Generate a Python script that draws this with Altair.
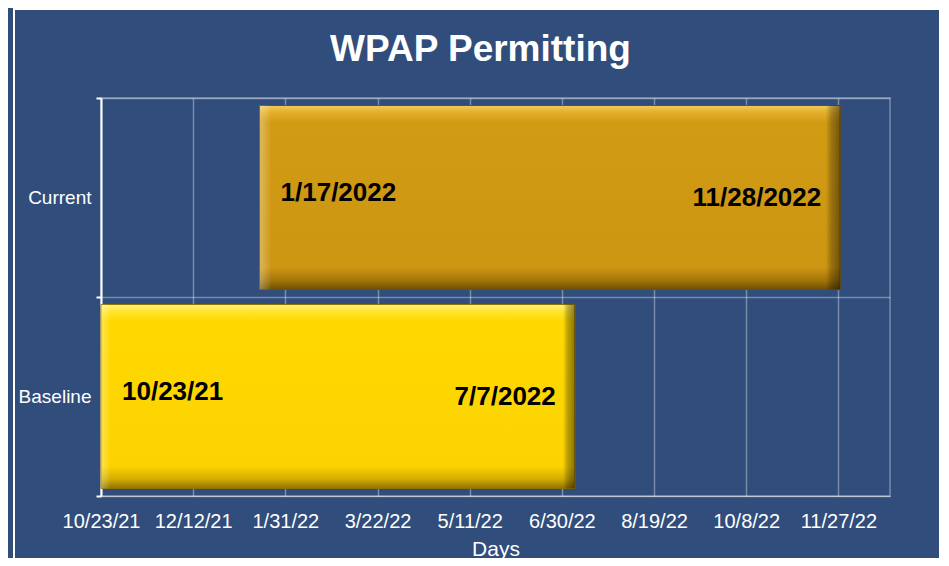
import altair as alt
import pandas as pd

# ---- data ----
categories = ["Current", "Baseline"]
start_dates = ["2022-01-17", "2021-10-23"]
end_dates = ["2022-11-28", "2022-07-07"]
start_labels = ["1/17/2022", "10/23/21"]
end_labels = ["11/28/2022", "7/7/2022"]
tick_dates = ["2021-10-23", "2021-12-12", "2022-01-31", "2022-03-22", "2022-05-11",
              "2022-06-30", "2022-08-19", "2022-10-08", "2022-11-27"]
axis_range = ["2021-10-23", "2022-12-25"]

df = pd.DataFrame({
    "category": categories,
    "start": start_dates,
    "end": end_dates,
    "start_label": start_labels,
    "end_label": end_labels,
})


def dt(s):
    y, m, d = (int(p) for p in s.split("-"))
    return alt.DateTime(year=y, month=m, date=d, utc=True)


BG = "#304D7C"
GRID = "rgba(255,255,255,0.35)"
FONT = "Liberation Sans"

x_scale = alt.Scale(type="utc", domain=[dt(axis_range[0]), dt(axis_range[1])])
y_scale = alt.Scale(paddingInner=0, paddingOuter=0)

x_enc = alt.X(
    "start:T",
    scale=x_scale,
    axis=alt.Axis(
        title="Days",
        values=[dt(t) for t in tick_dates],
        format="%-m/%-d/%y",
        ticks=False,
        tickSize=0,
        domainColor=GRID,
        gridColor=GRID,
        gridWidth=1.5,
        labelColor="white",
        labelFont=FONT,
        labelFontSize=20,
        labelPadding=15,
        labelFlush=False,
        labelOverlap=False,
        titleColor="white",
        titleFont=FONT,
        titleFontSize=21,
        titleFontWeight="normal",
        titlePadding=7,
    ),
)
y_enc = alt.Y(
    "category:N",
    sort=categories,
    scale=y_scale,
    axis=alt.Axis(
        title=None,
        tickBand="extent",
        domainColor="white",
        domainWidth=2,
        tickColor="white",
        tickWidth=2,
        tickSize=5,
        gridColor=GRID,
        gridWidth=1.5,
        grid=True,
        labelColor="white",
        labelFont=FONT,
        labelFontSize=19,
        labelPadding=5,
    ),
)


def grad(stops, horizontal=False):
    return alt.Gradient(
        gradient="linear",
        stops=[alt.GradientStop(color=c, offset=o) for o, c in stops],
        x1=0, x2=1 if horizontal else 0, y1=0, y2=0 if horizontal else 1,
    )


current_fill = grad([(0, "#F2C95A"), (0.04, "#E2AE2A"), (0.09, "#D29B14"),
                     (0.88, "#CD9612"), (0.95, "#A37608"), (1, "#6E5004")])
baseline_fill = grad([(0, "#FFF27A"), (0.04, "#FFE52E"), (0.09, "#FFD900"),
                      (0.88, "#FCD300"), (0.95, "#D2AC00"), (1, "#8F7200")])
side_bevel = grad([(0, "rgba(255,255,255,0.30)"), (0.016, "rgba(255,255,255,0.08)"),
                   (0.02, "rgba(255,255,255,0)"), (0.975, "rgba(0,0,0,0)"),
                   (0.985, "rgba(0,0,0,0.25)"), (1, "rgba(0,0,0,0.45)")], horizontal=True)

base = alt.Chart(df)

bar_current = base.transform_filter(alt.datum.category == "Current").mark_bar(
    size=184, color=current_fill, stroke="#6E5004", strokeWidth=1
).encode(x=x_enc, x2="end:T", y=y_enc)

bar_baseline = base.transform_filter(alt.datum.category == "Baseline").mark_bar(
    size=184, color=baseline_fill, stroke="#8F7200", strokeWidth=1
).encode(x=x_enc, x2="end:T", y=y_enc)

bar_bevel = base.mark_bar(size=184, color=side_bevel).encode(
    x=x_enc, x2="end:T", y=y_enc
)

start_text = base.mark_text(
    align="left", baseline="middle", dx=21, dy=-5,
    font=FONT, fontSize=26, fontWeight="bold", color="black",
).encode(x="start:T", y=alt.Y("category:N", sort=categories), text="start_label:N")

end_text = base.mark_text(
    align="right", baseline="middle", dx=-19, dy=0,
    font=FONT, fontSize=26, fontWeight="bold", color="black",
).encode(x="end:T", y=alt.Y("category:N", sort=categories), text="end_label:N")

frame = alt.Chart(pd.DataFrame({"f": [0]})).mark_rect(
    fillOpacity=0, stroke="white", strokeWidth=2
).encode(x=alt.value(-87), x2=alt.value(839), y=alt.value(-89), y2=alt.value(520))

chart = alt.layer(frame, bar_current, bar_baseline, bar_bevel, start_text, end_text).properties(
    width=789,
    height=398,
    autosize="none",
    padding={"left": 93, "top": 90, "right": 51, "bottom": 62},
    background=BG,
    title=alt.TitleParams(
        text="WPAP Permitting",
        color="white",
        font=FONT,
        fontSize=37,
        fontWeight="bold",
        anchor="middle",
        dx=-15,
        dy=61,
        offset=0,
    ),
).configure_view(stroke=GRID, strokeWidth=1.5)

chart.save("out.html", embed_options={"renderer": "svg", "actions": False})
